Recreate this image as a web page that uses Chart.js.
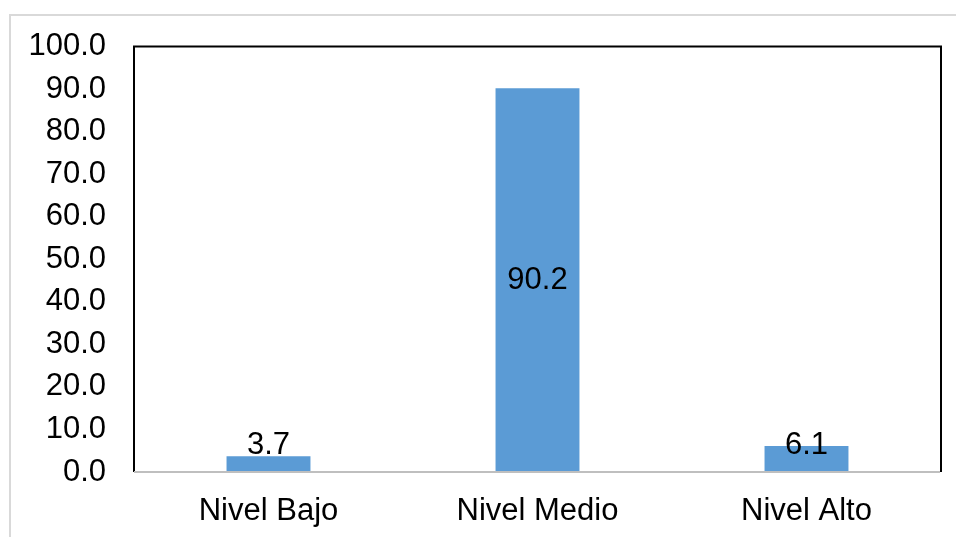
<!DOCTYPE html>
<html>
<head>
<meta charset="utf-8">
<script src="https://cdn.jsdelivr.net/npm/chart.js@4"></script>
<style>
  html, body { margin: 0; padding: 0; background: #ffffff; }
  #wrap { position: relative; width: 956px; height: 537px; }
  canvas { display: block; }
</style>
</head>
<body>
<div id="wrap"><canvas id="c" width="956" height="537"></canvas></div>
<script>
const categories = ["Nivel Bajo", "Nivel Medio", "Nivel Alto"];
const values = [3.7, 90.2, 6.1];
const yMin = 0;
const yMax = 100;
const yStep = 10;

const FONT = "'Liberation Sans', Arial, sans-serif";

const frame = {
  id: 'frame',
  beforeDraw(chart) {
    const ctx = chart.ctx;
    ctx.save();
    ctx.fillStyle = '#ffffff';
    ctx.fillRect(0, 0, chart.width, chart.height);
    ctx.strokeStyle = '#d9d9d9';
    ctx.lineWidth = 2;
    ctx.beginPath();
    ctx.moveTo(10, chart.height);
    ctx.lineTo(10, 15);
    ctx.lineTo(chart.width, 15);
    ctx.stroke();
    ctx.restore();
  },
  afterDatasetsDraw(chart) {
    const ctx = chart.ctx;
    const a = chart.chartArea;
    ctx.save();
    ctx.strokeStyle = '#000000';
    ctx.lineWidth = 2;
    ctx.beginPath();
    ctx.moveTo(a.left, a.bottom);
    ctx.lineTo(a.left, a.top);
    ctx.lineTo(a.right, a.top);
    ctx.lineTo(a.right, a.bottom);
    ctx.stroke();
    ctx.strokeStyle = '#bfbfbf';
    ctx.beginPath();
    ctx.moveTo(a.left, a.bottom);
    ctx.lineTo(a.right - 1, a.bottom);
    ctx.stroke();
    // data labels
    const meta = chart.getDatasetMeta(0);
    ctx.fillStyle = '#000000';
    ctx.font = '31px ' + FONT;
    ctx.textAlign = 'center';
    ctx.textBaseline = 'middle';
    meta.data.forEach((bar, i) => {
      const center = (bar.y + bar.base) / 2;
      const y = Math.min(center, bar.base - 27);
      ctx.fillText(values[i].toFixed(1), bar.x, y);
    });
    ctx.restore();
  }
};

new Chart(document.getElementById('c'), {
  type: 'bar',
  data: {
    labels: categories,
    datasets: [{
      data: values,
      backgroundColor: '#5b9bd5',
      borderWidth: 0,
      categoryPercentage: 1,
      barPercentage: 0.312
    }]
  },
  options: {
    responsive: false,
    animation: false,
    devicePixelRatio: 1,
    layout: { padding: { top: 46, right: 15, left: 0, bottom: 0 } },
    plugins: { legend: { display: false }, tooltip: { enabled: false } },
    scales: {
      x: {
        grid: { display: false, drawTicks: false },
        border: { display: false },
        ticks: { color: '#000000', font: { size: 31, family: FONT }, padding: 21, maxRotation: 0 },
        afterFit(s) { s.height = 65; }
      },
      y: {
        min: yMin, max: yMax,
        grid: { display: false, drawTicks: false },
        border: { display: false },
        ticks: {
          stepSize: yStep,
          color: '#000000',
          font: { size: 31, family: FONT },
          padding: 28,
          callback: v => Number(v).toFixed(1)
        },
        afterFit(s) { s.width = 134; }
      }
    }
  },
  plugins: [frame]
});
</script>
</body>
</html>
